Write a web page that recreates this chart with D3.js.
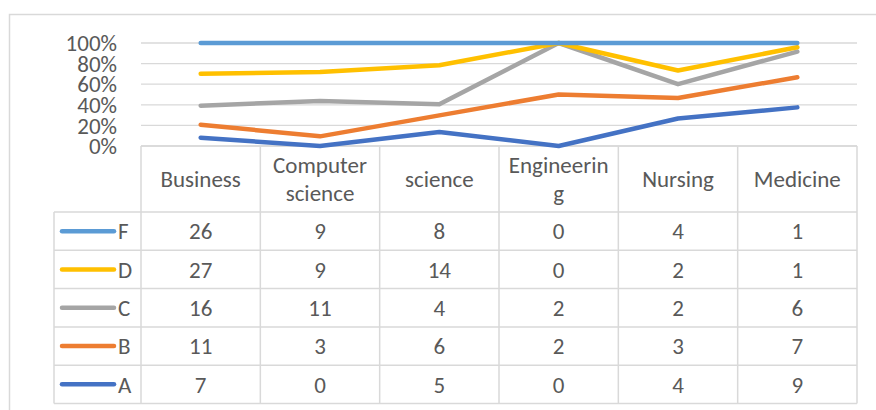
<!DOCTYPE html>
<html>
<head>
<meta charset="utf-8">
<script src="https://cdn.jsdelivr.net/npm/d3@7"></script>
<style>
  body { margin: 0; background: #fff; }
  svg text { font-family: Calibri, Carlito, Lato, sans-serif; fill: #595959; font-size: 23px; }
</style>
</head>
<body>
<div id="chart"></div>
<script>
// chart data
const categories = ["Business", "Computer science", "science", "Engineering", "Nursing", "Medicine"];
// header labels as they wrap in the table
const headerLines = [["Business"], ["Computer", "science"], ["science"], ["Engineerin", "g"], ["Nursing"], ["Medicine"]];
const seriesA = [7, 0, 5, 0, 4, 9];
const seriesB = [11, 3, 6, 2, 3, 7];
const seriesC = [16, 11, 4, 2, 2, 6];
const seriesD = [27, 9, 14, 0, 2, 1];
const seriesF = [26, 9, 8, 0, 4, 1];
const seriesNames = ["A", "B", "C", "D", "F"];
const colors = ["#4472C4", "#ED7D31", "#A5A5A5", "#FFC000", "#5B9BD5"];
const yTicks = [0, 0.2, 0.4, 0.6, 0.8, 1];

const width = 876, height = 410;
const plot = { left: 141, right: 857, top: 43, bottom: 146 };
const headerH = 66, rowH = 38.3, legendLeft = 54;

const rows = categories.map((c, i) => ({
    cat: c, A: seriesA[i], B: seriesB[i], C: seriesC[i], D: seriesD[i], F: seriesF[i]
}));
const values = { A: seriesA, B: seriesB, C: seriesC, D: seriesD, F: seriesF };

// 100% stacked
const stacked = d3.stack().keys(seriesNames).offset(d3.stackOffsetExpand)(rows);

const svg = d3.select("#chart").append("svg")
    .attr("width", width)
    .attr("height", height);

// outer chart border
svg.append("rect")
    .attr("x", 9.5).attr("y", 14.5)
    .attr("width", 900).attr("height", 420)
    .attr("fill", "none")
    .attr("stroke", "#d9d9d9")
    .attr("stroke-width", 1.5);

const x = d3.scaleBand()
    .domain(categories)
    .range([plot.left, plot.right]);

const y = d3.scaleLinear()
    .domain([0, 1])
    .range([plot.bottom, plot.top]);

// gridlines
svg.append("g")
    .selectAll("line")
    .data(yTicks)
    .join("line")
    .attr("x1", plot.left).attr("x2", plot.right)
    .attr("y1", d => y(d)).attr("y2", d => y(d))
    .attr("stroke", "#d9d9d9")
    .attr("stroke-width", 1.3);

// y labels
svg.append("g")
    .selectAll("text")
    .data(yTicks)
    .join("text")
    .attr("x", 117)
    .attr("y", d => y(d))
    .attr("dy", "0.36em")
    .attr("text-anchor", "end")
    .text(d => d3.format(".0%")(d));

// table grid
const tableTop = plot.bottom;
const tableBottom = tableTop + headerH + rowH * seriesNames.length;
const grid = svg.append("g")
    .attr("stroke", "#d9d9d9")
    .attr("stroke-width", 1.5);

// vertical lines for category columns
const colEdges = categories.map(c => x(c)).concat([plot.right]);
grid.selectAll("line.v")
    .data(colEdges)
    .join("line")
    .attr("class", "v")
    .attr("x1", d => d).attr("x2", d => d)
    .attr("y1", tableTop).attr("y2", tableBottom);

// left edge of legend column
grid.append("line")
    .attr("x1", legendLeft).attr("x2", legendLeft)
    .attr("y1", tableTop + headerH).attr("y2", tableBottom);

// horizontal lines
grid.append("line")
    .attr("x1", plot.left).attr("x2", plot.right)
    .attr("y1", tableTop).attr("y2", tableTop);
const rowEdges = d3.range(seriesNames.length + 1).map(i => tableTop + headerH + i * rowH);
grid.selectAll("line.h")
    .data(rowEdges)
    .join("line")
    .attr("class", "h")
    .attr("x1", legendLeft).attr("x2", plot.right)
    .attr("y1", d => d).attr("y2", d => d);

// header labels
const header = svg.append("g")
    .selectAll("text")
    .data(categories)
    .join("text")
    .attr("text-anchor", "middle")
    .attr("x", d => x(d) + x.bandwidth() / 2)
    .attr("y", (d, i) => tableTop + headerH / 2 - (headerLines[i].length - 1) * 14);
header.each(function(d, i) {
    d3.select(this).selectAll("tspan")
        .data(headerLines[i])
        .join("tspan")
        .attr("x", x(d) + x.bandwidth() / 2)
        .attr("dy", (t, j) => j === 0 ? "0.36em" : "28px")
        .text(t => t);
});

// table rows, from F down to A
const order = seriesNames.slice().reverse();
order.forEach((name, r) => {
    const cy = tableTop + headerH + rowH * r + rowH / 2;
    const k = seriesNames.indexOf(name);
    svg.append("line")
        .attr("x1", 62).attr("x2", 114)
        .attr("y1", cy).attr("y2", cy)
        .attr("stroke", colors[k])
        .attr("stroke-width", 4.5)
        .attr("stroke-linecap", "round");
    svg.append("text")
        .attr("x", 118).attr("y", cy)
        .attr("dy", "0.36em")
        .text(name);
    svg.append("g")
        .selectAll("text")
        .data(values[name])
        .join("text")
        .attr("x", (d, i) => x(categories[i]) + x.bandwidth() / 2)
        .attr("y", cy)
        .attr("dy", "0.36em")
        .attr("text-anchor", "middle")
        .text(d => d);
});

// lines
const line = d3.line()
    .x(d => x(d.data.cat) + x.bandwidth() / 2)
    .y(d => y(d[1]));

svg.append("g")
    .selectAll("path")
    .data(stacked)
    .join("path")
    .attr("d", line)
    .attr("fill", "none")
    .attr("stroke", (d, i) => colors[i])
    .attr("stroke-width", 4.5)
    .attr("stroke-linecap", "round")
    .attr("stroke-linejoin", "round");
</script>
</body>
</html>
